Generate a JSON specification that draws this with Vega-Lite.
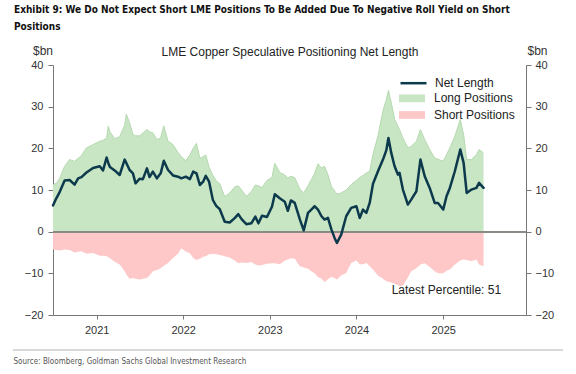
{
  "$schema": "https://vega.github.io/schema/vega-lite/v6.json",
  "width": 473,
  "height": 250,
  "autosize": {"type": "none"},
  "padding": {"left": 53, "top": 65, "right": 50, "bottom": 59},
  "background": "white",
  "config": {"view": {"stroke": null}, "font": "Liberation Sans"},
  "title": {
    "text": ["Exhibit 9: We Do Not Expect Short LME Positions To Be Added Due To Negative Roll Yield on Short", "Positions"],
    "anchor": "start",
    "frame": "group",
    "dx": -39,
    "dy": -8,
    "font": "DejaVu Sans Condensed",
    "fontSize": 10,
    "fontWeight": "bold",
    "color": "#111111",
    "lineHeight": 17,
    "offset": 4
  },
  "data": {
    "values": [
      {"d": "2020-07-01", "net": 6.3, "long": 11.3, "short": -4.3},
      {"d": "2020-07-15", "net": 8.0, "long": 11.6, "short": -4.4},
      {"d": "2020-07-29", "net": 9.5, "long": 12.8, "short": -4.5},
      {"d": "2020-08-19", "net": 12.3, "long": 15.7, "short": -4.3},
      {"d": "2020-09-09", "net": 12.4, "long": 17.3, "short": -4.4},
      {"d": "2020-09-30", "net": 11.3, "long": 16.9, "short": -5.0},
      {"d": "2020-10-15", "net": 12.8, "long": 17.6, "short": -4.8},
      {"d": "2020-10-29", "net": 13.1, "long": 18.3, "short": -4.7},
      {"d": "2020-11-19", "net": 14.2, "long": 20.1, "short": -5.3},
      {"d": "2020-12-17", "net": 15.3, "long": 20.9, "short": -5.1},
      {"d": "2021-01-14", "net": 15.7, "long": 21.7, "short": -5.8},
      {"d": "2021-01-28", "net": 14.7, "long": 21.9, "short": -5.8},
      {"d": "2021-02-12", "net": 17.8, "long": 22.5, "short": -5.9},
      {"d": "2021-02-19", "net": 16.5, "long": 25.3, "short": -6.1},
      {"d": "2021-02-26", "net": 15.5, "long": 24.0, "short": -6.4},
      {"d": "2021-03-18", "net": 14.7, "long": 22.3, "short": -7.2},
      {"d": "2021-04-08", "net": 13.6, "long": 22.8, "short": -7.9},
      {"d": "2021-04-29", "net": 17.3, "long": 25.5, "short": -9.5},
      {"d": "2021-05-06", "net": 16.5, "long": 28.2, "short": -10.3},
      {"d": "2021-05-20", "net": 14.8, "long": 26.1, "short": -11.3},
      {"d": "2021-06-03", "net": 14.0, "long": 23.3, "short": -11.1},
      {"d": "2021-06-14", "net": 11.6, "long": 23.0, "short": -11.3},
      {"d": "2021-07-01", "net": 12.7, "long": 23.0, "short": -11.5},
      {"d": "2021-07-15", "net": 12.6, "long": 23.7, "short": -11.3},
      {"d": "2021-08-01", "net": 15.2, "long": 24.5, "short": -11.1},
      {"d": "2021-08-12", "net": 13.1, "long": 24.0, "short": -10.5},
      {"d": "2021-08-26", "net": 14.4, "long": 23.7, "short": -9.5},
      {"d": "2021-09-12", "net": 12.8, "long": 22.1, "short": -9.2},
      {"d": "2021-09-28", "net": 14.0, "long": 22.5, "short": -8.8},
      {"d": "2021-10-11", "net": 17.0, "long": 25.4, "short": -8.2},
      {"d": "2021-10-29", "net": 14.8, "long": 21.7, "short": -7.5},
      {"d": "2021-11-19", "net": 13.5, "long": 20.9, "short": -6.3},
      {"d": "2021-12-10", "net": 13.2, "long": 19.0, "short": -5.3},
      {"d": "2021-12-24", "net": 12.8, "long": 18.0, "short": -4.0},
      {"d": "2022-01-12", "net": 13.2, "long": 17.0, "short": -4.8},
      {"d": "2022-01-29", "net": 12.6, "long": 18.4, "short": -5.2},
      {"d": "2022-02-12", "net": 14.4, "long": 20.0, "short": -6.3},
      {"d": "2022-02-26", "net": 14.0, "long": 21.2, "short": -6.8},
      {"d": "2022-03-12", "net": 11.2, "long": 17.6, "short": -6.5},
      {"d": "2022-03-26", "net": 12.0, "long": 18.0, "short": -6.0},
      {"d": "2022-04-06", "net": 13.4, "long": 18.4, "short": -5.9},
      {"d": "2022-04-20", "net": 12.0, "long": 15.5, "short": -5.4},
      {"d": "2022-05-06", "net": 7.6, "long": 13.5, "short": -5.3},
      {"d": "2022-05-20", "net": 6.2, "long": 12.2, "short": -5.4},
      {"d": "2022-06-04", "net": 5.4, "long": 11.5, "short": -5.6},
      {"d": "2022-06-25", "net": 2.4, "long": 8.4, "short": -5.9},
      {"d": "2022-07-16", "net": 2.2, "long": 9.3, "short": -6.2},
      {"d": "2022-08-07", "net": 3.3, "long": 10.8, "short": -7.0},
      {"d": "2022-08-21", "net": 4.2, "long": 11.0, "short": -7.6},
      {"d": "2022-09-04", "net": 3.0, "long": 10.0, "short": -7.4},
      {"d": "2022-09-24", "net": 1.8, "long": 8.5, "short": -7.5},
      {"d": "2022-10-15", "net": 2.0, "long": 9.6, "short": -7.3},
      {"d": "2022-11-01", "net": 3.6, "long": 11.2, "short": -7.9},
      {"d": "2022-11-14", "net": 2.0, "long": 11.0, "short": -8.1},
      {"d": "2022-11-29", "net": 3.8, "long": 10.6, "short": -8.0},
      {"d": "2022-12-20", "net": 3.5, "long": 12.3, "short": -7.7},
      {"d": "2023-01-10", "net": 6.0, "long": 13.0, "short": -7.6},
      {"d": "2023-01-22", "net": 9.0, "long": 16.4, "short": -7.6},
      {"d": "2023-02-12", "net": 8.0, "long": 14.2, "short": -7.8},
      {"d": "2023-03-05", "net": 7.2, "long": 13.6, "short": -7.0},
      {"d": "2023-03-18", "net": 5.0, "long": 12.9, "short": -6.7},
      {"d": "2023-03-31", "net": 7.5, "long": 13.3, "short": -6.4},
      {"d": "2023-04-16", "net": 6.9, "long": 13.0, "short": -6.5},
      {"d": "2023-05-08", "net": 2.9, "long": 10.2, "short": -8.3},
      {"d": "2023-05-24", "net": 0.3, "long": 9.3, "short": -8.6},
      {"d": "2023-06-11", "net": 4.5, "long": 11.0, "short": -8.9},
      {"d": "2023-06-25", "net": 5.3, "long": 12.5, "short": -9.5},
      {"d": "2023-07-09", "net": 6.1, "long": 14.0, "short": -10.0},
      {"d": "2023-07-23", "net": 5.3, "long": 16.3, "short": -10.9},
      {"d": "2023-08-07", "net": 3.7, "long": 15.3, "short": -11.3},
      {"d": "2023-08-20", "net": 2.9, "long": 15.7, "short": -12.1},
      {"d": "2023-09-03", "net": 3.3, "long": 13.7, "short": -11.4},
      {"d": "2023-09-18", "net": 0.5, "long": 10.8, "short": -10.8},
      {"d": "2023-10-01", "net": -1.5, "long": 9.8, "short": -11.2},
      {"d": "2023-10-11", "net": -2.7, "long": 9.0, "short": -11.5},
      {"d": "2023-10-29", "net": -0.7, "long": 9.3, "short": -10.5},
      {"d": "2023-11-19", "net": 3.7, "long": 10.0, "short": -9.9},
      {"d": "2023-12-10", "net": 5.7, "long": 11.3, "short": -7.5},
      {"d": "2024-01-01", "net": 6.1, "long": 12.3, "short": -6.9},
      {"d": "2024-01-15", "net": 3.3, "long": 13.0, "short": -7.8},
      {"d": "2024-01-29", "net": 5.3, "long": 13.5, "short": -7.8},
      {"d": "2024-02-12", "net": 4.5, "long": 14.1, "short": -7.5},
      {"d": "2024-02-26", "net": 6.9, "long": 14.5, "short": -8.3},
      {"d": "2024-03-11", "net": 11.5, "long": 18.5, "short": -9.1},
      {"d": "2024-04-01", "net": 14.5, "long": 23.0, "short": -10.5},
      {"d": "2024-04-22", "net": 17.3, "long": 29.0, "short": -11.3},
      {"d": "2024-05-06", "net": 19.5, "long": 31.7, "short": -11.9},
      {"d": "2024-05-15", "net": 22.5, "long": 33.9, "short": -12.0},
      {"d": "2024-05-27", "net": 18.9, "long": 31.0, "short": -12.2},
      {"d": "2024-06-10", "net": 15.7, "long": 27.0, "short": -12.5},
      {"d": "2024-06-24", "net": 13.7, "long": 25.3, "short": -12.8},
      {"d": "2024-07-01", "net": 14.1, "long": 24.5, "short": -13.1},
      {"d": "2024-07-15", "net": 10.1, "long": 22.5, "short": -12.9},
      {"d": "2024-08-05", "net": 6.5, "long": 20.1, "short": -11.0},
      {"d": "2024-08-19", "net": 7.7, "long": 20.5, "short": -9.5},
      {"d": "2024-09-10", "net": 9.7, "long": 21.7, "short": -8.8},
      {"d": "2024-09-27", "net": 17.3, "long": 24.5, "short": -7.9},
      {"d": "2024-10-15", "net": 13.3, "long": 22.1, "short": -7.6},
      {"d": "2024-11-05", "net": 10.5, "long": 19.7, "short": -8.5},
      {"d": "2024-11-26", "net": 6.9, "long": 17.7, "short": -9.5},
      {"d": "2024-12-10", "net": 6.9, "long": 17.4, "short": -10.0},
      {"d": "2025-01-01", "net": 5.3, "long": 16.9, "short": -10.0},
      {"d": "2025-01-15", "net": 8.5, "long": 18.5, "short": -9.4},
      {"d": "2025-01-29", "net": 10.5, "long": 20.1, "short": -9.1},
      {"d": "2025-02-19", "net": 14.5, "long": 22.9, "short": -7.9},
      {"d": "2025-03-14", "net": 19.7, "long": 26.9, "short": -6.9},
      {"d": "2025-03-28", "net": 16.5, "long": 23.3, "short": -6.7},
      {"d": "2025-04-10", "net": 9.3, "long": 17.3, "short": -6.8},
      {"d": "2025-04-30", "net": 10.1, "long": 17.3, "short": -7.1},
      {"d": "2025-05-21", "net": 10.5, "long": 18.5, "short": -6.7},
      {"d": "2025-06-01", "net": 11.7, "long": 19.7, "short": -7.9},
      {"d": "2025-06-20", "net": 10.5, "long": 18.9, "short": -8.3}
    ]
  },
  "layer": [
    {
      "mark": {"type": "area", "opacity": 1},
      "encoding": {
        "x": {
          "field": "d", "type": "temporal",
          "scale": {"domain": [{"year": 2020, "month": 7, "date": 1}, {"year": 2025, "month": 12, "date": 16}]},
          "axis": {
            "orient": "bottom", "format": "%Y", "tickCount": {"interval": "year", "step": 1},
            "grid": false, "domainColor": "#777777", "tickColor": "#777777", "tickSize": 4,
            "labelFontSize": 11, "labelColor": "#333333", "labelPadding": 5, "labelFlush": false,
            "title": "Source: Bloomberg, Goldman Sachs Global Investment Research",
            "titleX": -40, "titleY": 48.5, "titleAlign": "left", "titleBaseline": "alphabetic",
            "titleFont": "DejaVu Sans Condensed",
            "titleFontSize": 8, "titleFontWeight": "normal", "titleColor": "#555555"
          }
        },
        "y": {
          "field": "long", "type": "quantitative", "stack": null,
          "scale": {"domain": [-20, 40], "nice": false},
          "axis": {
            "orient": "left", "values": [-20, -10, 0, 10, 20, 30, 40], "grid": false,
            "domainColor": "#777777", "tickColor": "#777777", "tickSize": 5,
            "labelFontSize": 11, "labelColor": "#333333", "labelPadding": 5,
            "title": "$bn", "titleAngle": 0, "titleX": -10.5, "titleY": -11,
            "titleAlign": "center", "titleBaseline": "alphabetic",
            "titleFontSize": 12, "titleFontWeight": "normal", "titleColor": "#333333"
          }
        },
        "fill": {
          "datum": "Long Positions", "type": "nominal",
          "scale": {"domain": ["Long Positions", "Short Positions"], "range": ["#c8e5c4", "#ffc8c8"]},
          "legend": {
            "orient": "none", "legendX": 352.5, "legendY": 26.8, "title": null,
            "padding": 0, "symbolType": "M-2,-0.6H2V0.6H-2Z", "symbolSize": 169,
            "symbolStrokeWidth": 0, "symbolOpacity": 1,
            "labelOffset": 15.5, "rowPadding": 3.7,
            "labelFont": "Liberation Sans", "labelFontSize": 12, "labelColor": "#222222"
          }
        }
      }
    },
    {
      "mark": {"type": "area", "opacity": 1},
      "encoding": {
        "x": {
          "field": "d", "type": "temporal",
          "scale": {"domain": [{"year": 2020, "month": 7, "date": 1}, {"year": 2025, "month": 12, "date": 16}]},
          "axis": {
            "orient": "top", "domain": false, "ticks": false, "labels": false, "grid": false,
            "title": "LME Copper Speculative Positioning Net Length",
            "titleX": 236.5, "titleY": -9.5, "titleAlign": "center", "titleBaseline": "alphabetic",
            "titleFont": "Liberation Sans", "titleFontSize": 12, "titleFontWeight": "normal", "titleColor": "#222222"
          }
        },
        "y": {
          "field": "short", "type": "quantitative", "stack": null,
          "scale": {"domain": [-20, 40], "nice": false},
          "axis": {
            "orient": "right", "values": [-20, -10, 0, 10, 20, 30, 40], "grid": false,
            "domainColor": "#777777", "tickColor": "#777777", "tickSize": 5,
            "labelFontSize": 11, "labelColor": "#333333", "labelPadding": 4,
            "title": "$bn", "titleAngle": 0, "titleX": 11, "titleY": -11,
            "titleAlign": "center", "titleBaseline": "alphabetic",
            "titleFontSize": 12, "titleFontWeight": "normal", "titleColor": "#333333"
          }
        },
        "fill": {"datum": "Short Positions", "type": "nominal"}
      }
    },
    {
      "mark": {"type": "line", "color": "#b6dab0", "strokeWidth": 1},
      "encoding": {
        "x": {"field": "d", "type": "temporal", "scale": {"domain": [{"year": 2020, "month": 7, "date": 1}, {"year": 2025, "month": 12, "date": 16}]}, "axis": null},
        "y": {"field": "long", "type": "quantitative", "scale": {"domain": [-20, 40], "nice": false}, "axis": null}
      }
    },
    {
      "mark": {"type": "rule", "color": "#8a8a84", "strokeWidth": 1},
      "encoding": {
        "y": {"datum": 0, "type": "quantitative", "scale": {"domain": [-20, 40], "nice": false}, "axis": null}
      }
    },
    {
      "mark": {"type": "line", "strokeWidth": 2.5, "strokeJoin": "round", "strokeCap": "round"},
      "encoding": {
        "x": {"field": "d", "type": "temporal", "scale": {"domain": [{"year": 2020, "month": 7, "date": 1}, {"year": 2025, "month": 12, "date": 16}]}, "axis": null},
        "y": {"field": "net", "type": "quantitative", "scale": {"domain": [-20, 40], "nice": false}, "axis": null},
        "stroke": {
          "datum": "Net Length", "type": "nominal",
          "scale": {"domain": ["Net Length"], "range": ["#0c3a4c"]},
          "legend": {
            "orient": "none", "legendX": 346, "legendY": 3.7, "title": null,
            "padding": 0, "symbolType": "stroke", "symbolSize": 676, "symbolStrokeWidth": 2.5,
            "labelOffset": 7,
            "labelFont": "Liberation Sans", "labelFontSize": 12, "labelColor": "#222222"
          }
        }
      }
    },
    {
      "data": {"values": [{"d": "2025-09-02", "v": -13.9, "label": "Latest Percentile: 51"}]},
      "mark": {"type": "text", "align": "right", "baseline": "middle", "font": "Liberation Sans", "fontSize": 12, "color": "#222222"},
      "encoding": {
        "x": {"field": "d", "type": "temporal", "scale": {"domain": [{"year": 2020, "month": 7, "date": 1}, {"year": 2025, "month": 12, "date": 16}]}, "axis": null},
        "y": {"field": "v", "type": "quantitative", "scale": {"domain": [-20, 40], "nice": false}, "axis": null},
        "text": {"field": "label"}
      }
    },
    {
      "data": {"values": [{"a": "2020-01-13", "b": "2026-05-21", "v": -28.4}]},
      "mark": {"type": "rule", "color": "#cccccc", "strokeWidth": 1.5},
      "encoding": {
        "x": {"field": "a", "type": "temporal", "scale": {"domain": [{"year": 2020, "month": 7, "date": 1}, {"year": 2025, "month": 12, "date": 16}]}, "axis": null},
        "x2": {"field": "b"},
        "y": {"field": "v", "type": "quantitative", "scale": {"domain": [-20, 40], "nice": false}, "axis": null}
      }
    }
  ],
  "resolve": {"scale": {"x": "independent", "y": "independent"}}
}
